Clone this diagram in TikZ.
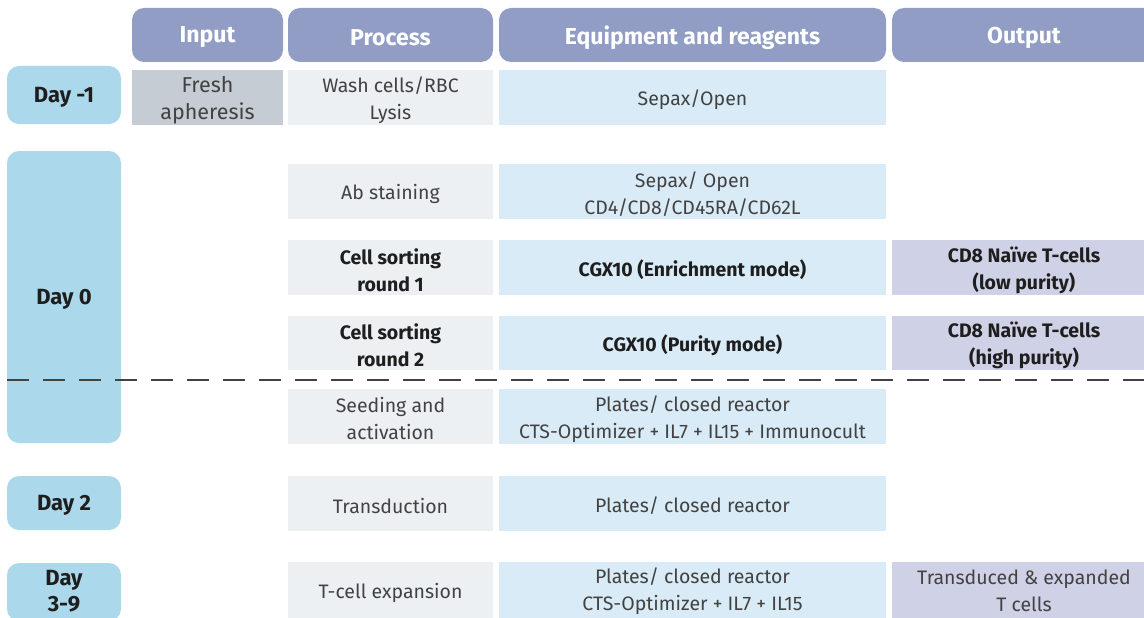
\documentclass[tikz,border=0pt]{standalone}
\usepackage{fontspec}
\setmainfont{Fira Sans}
\definecolor{hdr}{HTML}{919DC4}
\definecolor{dayc}{HTML}{ABD8EB}
\definecolor{inc}{HTML}{C5CCD4}
\definecolor{prc}{HTML}{EDF0F3}
\definecolor{eqc}{HTML}{D8EBF6}
\definecolor{outc}{HTML}{CFD1E6}
\definecolor{txt}{HTML}{424242}
\definecolor{dtxt}{HTML}{1E1E1E}
% #1 box style, #2 text style, #3 name, #4 x, #5 y, #6 width, #7 height, #8 text
\newcommand\mycell[8]{%
  \node[#1,minimum width=#6pt,minimum height=#7pt] (#3) at (#4,#5) {};
  \node[#2] (#3-t) at ([yshift=-2.5pt]#3.center) {#8};}
\begin{document}
\begin{tikzpicture}[x=1pt,y=1pt,
  every node/.style={inner sep=0pt,outer sep=0pt,align=center},
  header/.style={fill=hdr,rounded corners=12pt},
  htext/.style={text=white,font=\fontsize{23}{27}\selectfont\bfseries},
  daybox/.style={fill=dayc,rounded corners=12pt},
  dtext/.style={text=dtxt,font=\fontsize{22}{27}\selectfont\bfseries},
  cell/.style={text=txt,font=\fontsize{19.5}{27}\selectfont},
  bcell/.style={text=dtxt,font=\fontsize{19.5}{27}\selectfont\bfseries},
  intext/.style={cell,font=\fontsize{21.5}{27}\selectfont},
  inbox/.style={fill=inc},
  prbox/.style={fill=prc},
  eqbox/.style={fill=eqc},
  outbox/.style={fill=outc},
  sepline/.style={line width=2.5pt,draw=txt,dash pattern=on 22pt off 14pt}]
\useasboundingbox (0,0) rectangle (1144,-618);
% headers
\mycell{header}{htext}{hin}{207.5}{-35}{151}{54}{Input}
\mycell{header}{htext}{hpr}{390.5}{-35}{205}{54}{Process}
\mycell{header}{htext}{heq}{692.5}{-35}{387}{54}{Equipment and reagents}
\mycell{header}{htext}{hout}{1024}{-35}{264}{54}{Output}
% day boxes
\mycell{daybox}{dtext}{dm1}{64}{-95}{114}{58}{Day -1}
\mycell{daybox}{dtext}{d0}{64}{-297}{114}{292}{Day 0}
\mycell{daybox}{dtext}{d2}{64}{-503}{114}{54}{Day 2}
\node[daybox,minimum width=114pt,minimum height=58pt] (d39) at (64,-592) {};
\node[dtext,font=\fontsize{22}{26}\selectfont\bfseries] (d39-t) at ([yshift=1pt]d39.center) {Day\\3-9};
% row day -1
\mycell{inbox}{intext}{in1}{207.5}{-97.5}{151}{55}{Fresh\\apheresis}
\mycell{prbox}{cell}{p1}{390.5}{-97.5}{205}{55}{Wash cells/RBC\\Lysis}
\mycell{eqbox}{cell}{e1}{692.5}{-97.5}{387}{55}{Sepax/Open}
% Ab staining
\mycell{prbox}{cell}{p2}{390.5}{-191.5}{205}{55}{Ab staining}
\mycell{eqbox}{cell}{e2}{692.5}{-191.5}{387}{55}{Sepax/ Open\\CD4/CD8/CD45RA/CD62L}
% sorting 1
\mycell{prbox}{bcell}{p3}{390.5}{-267.5}{205}{55}{Cell sorting\\round 1}
\mycell{eqbox}{bcell}{e3}{692.5}{-267.5}{387}{55}{CGX10 (Enrichment mode)}
\mycell{outbox}{bcell}{o3}{1024}{-267.5}{264}{55}{CD8 Naïve T-cells\\(low purity)}
% sorting 2
\mycell{prbox}{bcell}{p4}{390.5}{-343}{205}{54}{Cell sorting\\round 2}
\mycell{eqbox}{bcell}{e4}{692.5}{-343}{387}{54}{CGX10 (Purity mode)}
\mycell{outbox}{bcell}{o4}{1024}{-343}{264}{54}{CD8 Naïve T-cells\\(high purity)}
% dashed separator
\coordinate (sl) at (7,-380);
\coordinate (sr) at (1144,-380);
\draw[sepline] (sl) -- (sr);
% seeding
\mycell{prbox}{cell}{p5}{390.5}{-416.5}{205}{55}{Seeding and\\activation}
\mycell{eqbox}{cell}{e5}{692.5}{-416.5}{387}{55}{Plates/ closed reactor\\CTS-Optimizer + IL7 + IL15 + Immunocult}
% transduction
\mycell{prbox}{cell}{p6}{390.5}{-503.5}{205}{55}{Transduction}
\mycell{eqbox}{cell}{e6}{692.5}{-503.5}{387}{55}{Plates/ closed reactor}
% expansion
\mycell{prbox}{cell}{p7}{390.5}{-590.5}{205}{57}{T-cell expansion}
\node[eqbox,minimum width=387pt,minimum height=57pt] (e7) at (692.5,-590.5) {};
\node[cell] (e7-t) at ([yshift=-0.5pt]e7.center) {Plates/ closed reactor\\CTS-Optimizer + IL7 + IL15};
\node[outbox,minimum width=264pt,minimum height=57pt] (o7) at (1024,-590.5) {};
\node[cell] (o7-t) at ([yshift=-0.5pt]o7.center) {Transduced \& expanded\\T cells};
\end{tikzpicture}
\end{document}
